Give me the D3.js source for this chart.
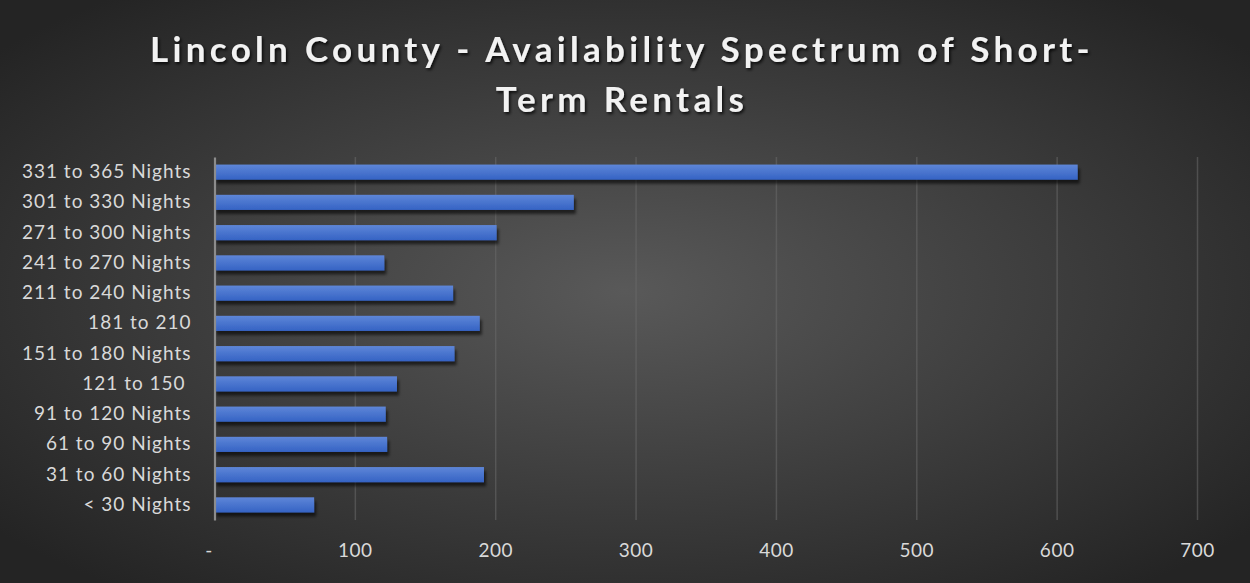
<!DOCTYPE html>
<html>
<head>
<meta charset="utf-8">
<script src="https://cdn.jsdelivr.net/npm/d3@7"></script>
<style>
  html, body { margin: 0; padding: 0; background: #262626; }
  svg { display: block; }
</style>
</head>
<body>
<svg id="svg"></svg>
<script>
// data, top row first as it shows in the chart
const categories = [
    "331 to 365 Nights", "301 to 330 Nights", "271 to 300 Nights", "241 to 270 Nights",
    "211 to 240 Nights", "181 to 210", "151 to 180 Nights", "121 to 150 ",
    "91 to 120 Nights", "61 to 90 Nights", "31 to 60 Nights", "< 30 Nights"
];
const rentals = [615, 256, 201, 121, 170, 189, 171, 130, 122, 123, 192, 71];
const xTicks = [0, 100, 200, 300, 400, 500, 600, 700];
const titleLines = ["Lincoln County - Availability Spectrum of Short-", "Term Rentals"];

const width = 1250;
const height = 583;
const margin = { top: 157, right: 53, bottom: 63, left: 214.5 };
const chartWidth = width - margin.left - margin.right;
const chartHeight = height - margin.top - margin.bottom;

let svg = d3.select("#svg")
    .attr("width", width)
    .attr("height", height);

const defs = svg.append("defs");

// dark radial background
const bg = defs.append("radialGradient")
    .attr("id", "bg")
    .attr("cx", "50%").attr("cy", "50%").attr("r", "65%");
bg.append("stop").attr("offset", "0%").attr("stop-color", "#595959");
bg.append("stop").attr("offset", "100%").attr("stop-color", "#242424");

// bar fill, lighter on top
const barGrad = defs.append("linearGradient")
    .attr("id", "barGrad")
    .attr("x1", 0).attr("y1", 0).attr("x2", 0).attr("y2", 1);
barGrad.append("stop").attr("offset", "0%").attr("stop-color", "#5e86d8");
barGrad.append("stop").attr("offset", "100%").attr("stop-color", "#3563c4");

const shadow = defs.append("filter")
    .attr("id", "barShadow")
    .attr("x", "-5%").attr("y", "-30%").attr("width", "115%").attr("height", "190%");
shadow.append("feDropShadow")
    .attr("dx", 2).attr("dy", 4).attr("stdDeviation", 1.6)
    .attr("flood-color", "#000").attr("flood-opacity", 0.6);

const titleShadow = defs.append("filter").attr("id", "titleShadow");
titleShadow.append("feDropShadow")
    .attr("dx", 1.5).attr("dy", 2).attr("stdDeviation", 1.5)
    .attr("flood-color", "#000").attr("flood-opacity", 0.8);

svg.append("rect")
    .attr("width", width)
    .attr("height", height)
    .attr("fill", "url(#bg)");

let chart = svg.append("g")
    .attr("transform", "translate(" + margin.left + "," + margin.top + ")");

let xScale = d3.scaleLinear()
    .domain([0, 700])
    .range([0, chartWidth]);

let yScale = d3.scaleBand()
    .domain(categories)
    .range([0, chartHeight])
    .paddingInner(0.5)
    .paddingOuter(0.25);

// gridlines
chart.append("g")
    .attr("class", "grid")
    .call(d3.axisBottom(xScale).tickValues(xTicks.slice(1)).tickSize(chartHeight).tickFormat(""))
    .call(g => g.select(".domain").remove())
    .selectAll("line")
    .attr("stroke", "#6a6a6a")
    .attr("stroke-opacity", 0.55)
    .attr("stroke-width", 1.5);

// bars
chart.selectAll(".bar")
    .data(rentals)
    .enter().append("rect")
    .attr("class", "bar")
    .attr("x", 0)
    .attr("y", (d, i) => yScale(categories[i]))
    .attr("width", d => xScale(d))
    .attr("height", yScale.bandwidth())
    .attr("fill", "url(#barGrad)")
    .attr("filter", "url(#barShadow)");

// x-axis labels
chart.append("g")
    .attr("class", "x-axis")
    .attr("transform", "translate(0," + chartHeight + ")")
    .call(d3.axisBottom(xScale).tickValues(xTicks).tickSize(0).tickPadding(24)
        .tickFormat(d => d === 0 ? "-" : d))
    .call(g => g.select(".domain").remove())
    .selectAll("text")
    .attr("dx", d => d === 0 ? -6 : 0)
    .style("fill", "#d9d9d9")
    .style("font-family", "Lato, 'Open Sans', sans-serif")
    .style("font-size", "19px")
    .style("letter-spacing", "0.5px");

// y-axis with category labels
chart.append("g")
    .attr("class", "y-axis")
    .call(d3.axisLeft(yScale).tickSize(0).tickPadding(23))
    .call(g => g.select(".domain")
        .attr("stroke", "#8c8c8c")
        .attr("stroke-width", 2.2))
    .selectAll("text")
    .style("white-space", "pre")
    .style("fill", "#d9d9d9")
    .style("font-family", "Lato, 'Open Sans', sans-serif")
    .style("font-size", "19px")
    .style("letter-spacing", "1px");

// title
svg.append("text")
    .attr("text-anchor", "middle")
    .attr("filter", "url(#titleShadow)")
    .style("font-family", "Lato, 'Open Sans', sans-serif")
    .style("font-weight", 700)
    .style("font-size", "35px")
    .style("letter-spacing", "4.3px")
    .style("fill", "#f2f2f2")
    .selectAll("tspan")
    .data(titleLines)
    .enter().append("tspan")
    .attr("x", 622)
    .attr("y", (d, i) => 62 + i * 50)
    .text(d => d);
</script>
</body>
</html>
